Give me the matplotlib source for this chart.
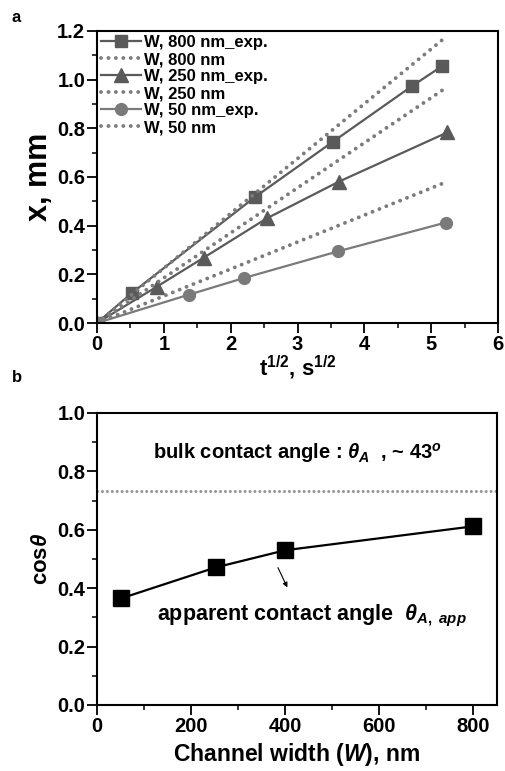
import matplotlib
matplotlib.use("Agg")
import matplotlib.pyplot as plt
from matplotlib.ticker import MultipleLocator

plt.rcParams['font.family'] = ['Liberation Sans', 'DejaVu Sans']
plt.rcParams['font.weight'] = 'bold'
plt.rcParams['mathtext.fontset'] = 'custom'
plt.rcParams['mathtext.it'] = 'Liberation Sans:italic'
plt.rcParams['mathtext.rm'] = 'Liberation Sans'
plt.rcParams['mathtext.bf'] = 'Liberation Sans:bold'

# Panel a data
t800 = [0, 0.52, 2.37, 3.53, 4.71, 5.16]
x800 = [0, 0.123, 0.519, 0.745, 0.973, 1.055]
t800_th = [0, 5.16]
x800_th = [0, 1.162]

t250 = [0, 0.90, 1.60, 2.54, 3.62, 5.24]
x250 = [0, 0.150, 0.269, 0.430, 0.581, 0.783]
t250_th = [0, 5.24]
x250_th = [0, 0.970]

t50 = [0, 1.37, 2.20, 3.60, 5.22]
x50 = [0, 0.116, 0.185, 0.294, 0.413]
t50_th = [0, 5.24]
x50_th = [0, 0.581]

# Panel b data
widths = [51, 252, 400, 800]
costheta = [0.365, 0.471, 0.530, 0.612]
bulk_cos = 0.732

fig = plt.figure(figsize=(5.05, 7.71), dpi=100)
W, H = 505, 771
axa = fig.add_axes([97 / W, 1 - 323 / H, (498 - 97) / W, (323 - 31) / H])
axb = fig.add_axes([97 / W, 1 - 705 / H, (497 - 97) / W, (705 - 413) / H])

dark = '#5a5a5a'
mid = '#7a7a7a'
dot = '#7c7c7c'
dotted = (0, (0.01, 1.9))

axa.plot(t800, x800, '-', color=dark, lw=1.6, marker='s', ms=8.5, label='W, 800 nm_exp.')
axa.plot(t800_th, x800_th, color=dot, lw=2.8, ls=dotted, dash_capstyle='round', label='W, 800 nm')
axa.plot(t250, x250, '-', color=dark, lw=1.6, marker='^', ms=9.5, label='W, 250 nm_exp.')
axa.plot(t250_th, x250_th, color=dot, lw=2.8, ls=dotted, dash_capstyle='round', label='W, 250 nm')
axa.plot(t50, x50, '-', color=mid, lw=1.6, marker='o', ms=8.5, label='W, 50 nm_exp.')
axa.plot(t50_th, x50_th, color=dot, lw=2.8, ls=dotted, dash_capstyle='round', label='W, 50 nm')

axa.set_xlim(0, 6)
axa.set_ylim(0, 1.2)
axa.xaxis.set_major_locator(MultipleLocator(1))
axa.xaxis.set_minor_locator(MultipleLocator(0.5))
axa.yaxis.set_major_locator(MultipleLocator(0.2))
axa.yaxis.set_minor_locator(MultipleLocator(0.1))
axa.set_xlabel(r'$\mathbf{t^{1/2}}$, $\mathbf{s^{1/2}}$', fontsize=16, fontweight='bold', labelpad=0)
axa.set_ylabel('x, mm', fontsize=22, fontweight='bold', labelpad=2)
leg = axa.legend(loc='upper left', frameon=False, fontsize=12, handlelength=2.4,
                 handletextpad=0.15, labelspacing=0.12, borderaxespad=0.1,
                 borderpad=0.15)
for txt in leg.get_texts():
    txt.set_fontweight('bold')

axb.plot(widths, costheta, '-', color='black', lw=1.6, marker='s', ms=11,
         markerfacecolor='black')
axb.axhline(bulk_cos, color='#959595', lw=2.2, ls=(0, (0.01, 1.6)), dash_capstyle='round')
axb.set_xlim(0, 850)
axb.set_ylim(0, 1.0)
axb.xaxis.set_major_locator(MultipleLocator(200))
axb.xaxis.set_minor_locator(MultipleLocator(100))
axb.yaxis.set_major_locator(MultipleLocator(0.2))
axb.yaxis.set_minor_locator(MultipleLocator(0.1))
axb.set_xlabel(r'Channel width ($\mathbf{\mathit{W}}$), nm', fontsize=16.5, fontweight='bold', labelpad=4)
axb.set_ylabel(r'cos$\mathit{\theta}$', fontsize=16, fontweight='bold', labelpad=4)

axb.text(119, 0.862, r'bulk contact angle : $\mathit{\theta}_{\mathit{A}}$  , ~ $\mathit{43}^{\mathit{o}}$',
         fontsize=14.5, fontweight='bold', va='center', ha='left')
axb.text(128, 0.305, r'apparent contact angle  $\mathit{\theta}_{\mathit{A,\ app}}$',
         fontsize=15.5, fontweight='bold', va='center', ha='left')
axb.annotate('', xy=(407, 0.394), xytext=(382, 0.479),
             arrowprops=dict(arrowstyle='-|>', color='black', lw=0.8, mutation_scale=7))

for ax in (axa, axb):
    for s in ax.spines.values():
        s.set_linewidth(1.5)
    ax.tick_params(which='major', direction='out', length=7, width=1.3, labelsize=14.5,
                   top=False, right=False, pad=1.5)
    ax.tick_params(which='minor', direction='out', length=3.5, width=1.1, top=False, right=False)
    for lab in ax.get_xticklabels() + ax.get_yticklabels():
        lab.set_fontweight('bold')

fig.text(16 / W, 1 - 18 / H, 'a', fontsize=12, fontweight='bold', ha='center', va='center')
fig.text(17 / W, 1 - 378 / H, 'b', fontsize=12, fontweight='bold', ha='center', va='center')

fig.savefig('out.png', dpi=100)
